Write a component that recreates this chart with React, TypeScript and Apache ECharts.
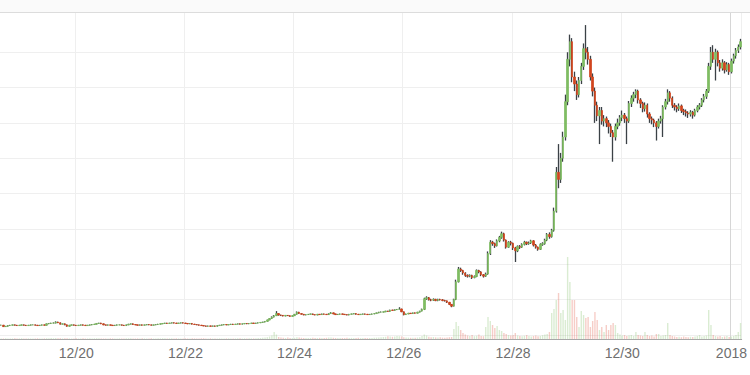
import React, { useEffect, useRef } from 'react';
import * as echarts from 'echarts';

// Hourly candles starting 2017-12-18 15:00
const START_DAY = 18;
const START_HOUR = 15;

// [open, close, low, high]
const CANDLES: number[][] = [
  // 0-9
  [127,127,126,128],[127,123,122,128],[123,124,122,125],[124,126,123,127],[126,127,125,128],[127,128,126,129],[128,127,126,129],[127,126,125,128],[126,127,125,128],[127,128,126,129],
  // 10-19
  [128,127,126,129],[127,126,125,128],[126,127,125,128],[127,128,126,129],[128,128,127,129],[128,127,126,129],[127,126,125,128],[126,127,125,128],[127,128,126,129],[128,127,126,129],
  // 20-29
  [127,131,126,132],[131,132,130,133],[132,133,131,134],[133,133,132,135],[133,136,132,138],[136,134,133,137],[134,130,129,135],[130,131,129,132],[131,128,127,132],[128,124,123,129],
  // 30-39
  [124,127,123,128],[127,128,126,129],[128,127,126,129],[127,126,125,128],[126,127,125,128],[127,128,126,129],[128,127,126,129],[127,126,125,128],[126,127,125,128],[127,128,126,129],
  // 40-49
  [128,129,127,130],[129,130,128,131],[130,132,129,133],[132,133,131,134],[133,131,130,134],[131,128,127,132],[128,127,126,129],[127,128,126,129],[128,127,126,129],[127,126,125,128],
  // 50-59
  [126,127,125,128],[127,128,126,129],[128,128,127,129],[128,127,126,129],[127,126,125,128],[126,128,125,129],[128,130,127,131],[130,131,129,132],[131,129,128,132],[129,128,127,130],
  // 60-69
  [128,127,126,129],[127,128,126,129],[128,127,126,129],[127,128,126,129],[128,129,127,130],[129,128,127,130],[128,127,126,129],[127,128,126,129],[128,129,127,130],[129,130,128,131],
  // 70-79
  [130,131,129,132],[131,132,130,133],[132,133,131,134],[133,132,131,134],[132,133,131,134],[133,134,132,135],[134,133,132,135],[133,132,131,134],[132,133,131,134],[133,134,132,135],
  // 80-89
  [134,133,132,135],[133,132,131,134],[132,131,130,133],[131,132,130,133],[132,130,129,133],[130,129,128,131],[129,128,127,130],[128,127,126,129],[127,126,125,128],[126,125,124,127],
  // 90-99
  [125,124,123,126],[124,125,123,126],[125,124,123,126],[124,125,123,126],[125,124,123,126],[124,126,123,127],[126,127,125,128],[127,128,126,129],[128,129,127,130],[129,128,127,130],
  // 100-109
  [128,129,127,130],[129,130,128,131],[130,129,128,131],[129,130,128,131],[130,131,129,132],[131,130,129,132],[130,131,129,132],[131,132,130,133],[132,131,130,133],[131,132,130,133],
  // 110-119
  [132,133,131,134],[133,132,131,134],[132,133,131,134],[133,134,132,135],[134,135,133,136],[135,136,134,137],[136,138,135,139],[138,142,137,143],[142,146,141,147],[146,150,145,152],
  // 120-129
  [150,154,149,156],[154,160,153,167],[160,156,154,161],[156,155,153,157],[155,153,152,156],[153,155,152,156],[155,154,153,156],[154,152,151,155],[152,154,151,155],[154,158,153,159],
  // 130-139
  [158,164,157,166],[164,160,159,165],[160,158,157,161],[158,156,155,159],[156,157,155,158],[157,158,156,159],[158,159,157,160],[159,157,156,160],[157,156,155,158],[156,158,155,159],
  // 140-149
  [158,157,156,159],[157,159,156,160],[159,158,157,160],[158,157,156,159],[157,160,156,161],[160,162,159,164],[162,159,158,163],[159,157,156,160],[157,158,156,159],[158,159,157,160],
  // 150-159
  [159,158,157,160],[158,157,156,159],[157,156,155,158],[156,158,155,159],[158,159,157,160],[159,160,158,161],[160,158,157,161],[158,157,156,159],[157,158,156,159],[158,159,157,160],
  // 160-169
  [159,158,157,160],[158,157,156,159],[157,158,156,159],[158,159,157,160],[159,160,158,161],[160,162,159,163],[162,164,161,165],[164,164,163,166],[164,165,163,166],[165,167,164,168],
  // 170-179
  [167,166,165,168],[166,170,165,171],[170,169,168,171],[169,171,168,172],[171,172,170,173],[172,173,171,178],[173,165,164,174],[165,157,155,166],[157,159,156,160],[159,161,158,162],
  // 180-189
  [161,160,159,162],[160,162,159,163],[162,161,160,163],[161,164,160,165],[164,167,163,168],[167,172,166,174],[172,202,170,205],[202,205,199,209],[205,199,197,207],[199,198,195,202],
  // 190-199
  [198,200,196,203],[200,197,195,202],[197,200,195,202],[200,199,197,202],[199,197,195,201],[197,196,194,199],[196,192,190,197],[192,186,184,193],[186,181,178,187],[181,200,180,202],
  // 200-209
  [200,250,198,256],[250,286,248,292],[286,282,278,290],[282,275,270,284],[275,268,264,277],[268,266,262,271],[266,268,263,271],[268,262,258,270],[262,265,260,268],[265,282,263,285],
  // 210-219
  [282,278,274,284],[278,270,266,280],[270,266,262,272],[266,272,264,276],[272,330,270,336],[330,362,326,368],[362,358,352,366],[358,352,346,361],[352,366,350,370],[366,376,362,380],
  // 220-229
  [376,386,372,392],[386,368,364,389],[368,348,344,370],[348,362,346,365],[362,359,353,366],[359,346,340,361],[346,338,306,349],[338,350,334,353],[350,348,343,354],[348,356,346,359],
  // 230-239
  [356,362,353,366],[362,358,354,364],[358,360,355,364],[360,366,357,369],[366,354,350,368],[354,348,344,357],[348,342,338,350],[342,356,340,359],[356,358,352,362],[358,368,355,372],
  // 240-249
  [368,384,365,388],[384,378,372,390],[378,396,375,400],[396,450,392,460],[450,560,446,575],[560,540,515,640],[540,600,530,615],[600,660,590,675],[660,760,650,780],[760,880,750,900],
  // 250-259
  [880,930,860,950],[930,830,815,940],[830,810,790,845],[810,780,765,820],[780,820,772,830],[820,860,810,870],[860,910,850,925],[910,900,880,977],[900,880,865,915],[880,830,820,890],
  // 260-269
  [830,790,775,840],[790,750,700,800],[750,720,705,760],[720,735,640,745],[735,705,695,745],[705,712,690,722],[712,700,688,718],[700,690,670,708],[690,672,660,698],[672,660,590,680],
  // 270-279
  [660,690,650,698],[690,700,682,712],[700,715,692,722],[715,722,705,735],[722,712,700,728],[712,705,640,718],[705,755,700,762],[755,770,745,778],[770,780,760,788],[780,790,770,795],
  // 280-289
  [790,765,755,794],[765,755,742,770],[755,740,730,760],[740,750,732,758],[750,725,715,755],[725,712,700,730],[712,708,696,718],[708,700,688,712],[700,690,650,705],[690,705,684,712],
  // 290-299
  [705,712,698,720],[712,745,660,750],[745,760,738,768],[760,785,752,795],[785,770,760,790],[770,750,742,775],[750,745,735,756],[745,740,730,750],[740,748,734,755],[748,735,728,752],
  // 300-309
  [735,732,722,740],[732,728,718,738],[728,725,714,733],[725,730,718,736],[730,722,712,734],[722,735,718,740],[735,745,730,750],[745,750,738,756],[750,765,745,770],[765,775,758,782],
  // 310-319
  [775,790,768,796],[790,860,785,870],[860,900,850,915],[900,880,870,920],[880,900,820,910],[900,870,860,905],[870,855,845,878],[855,870,848,880],[870,850,840,875],[850,865,845,872],
  // 320-325
  [865,845,836,870],[845,875,840,882],[875,890,868,896],[890,905,882,912],[905,915,898,922],[915,930,908,938],
];

const VOLUMES: number[] = [
  6,5,7,6,5,6,7,5,6,8,6,5,7,6,5,6,7,6,5,6,
  8,7,9,8,10,8,7,6,7,8,6,5,6,7,5,6,7,5,6,7,
  6,7,8,7,6,5,6,5,7,6,5,6,7,5,6,7,8,7,6,5,
  6,5,7,6,5,6,7,5,6,7,6,8,7,6,7,8,6,7,6,5,
  6,7,5,6,7,6,5,6,7,8,6,5,7,6,5,6,7,6,5,6,
  7,6,5,6,7,8,6,7,6,8,7,6,8,9,10,12,14,
  18,25,35,70,45,20,
  15,12,10,14,11,9,12,18,16,12,10,9,11,10,12,9,10,11,9,10,
  12,14,16,12,10,9,11,10,9,12,10,11,9,10,12,9,10,11,9,10,
  11,12,14,16,18,20,22,28,25,22,24,30,28,26,18,15,14,12,13,12,15,18,30,
  45,35,22,18,20,16,15,18,14,12,15,18,20,
  100,170,130,90,60,45,35,30,40,28,32,45,30,28,
  120,220,180,140,110,130,90,80,60,50,40,35,40,60,
  35,30,28,32,40,30,25,30,35,28,30,38,45,50,70,
  260,300,390,460,260,290,190,820,570,390,390,220,120,280,240,210,220,120,180,270,190,90,120,70,140,90,140,160,140,
  60,45,35,40,30,35,40,30,70,40,35,30,70,40,30,35,25,50,50,30,35,40,160,40,30,
  25,20,22,18,25,20,18,22,20,25,30,40,25,30,35,
  290,140,40,30,25,30,20,25,30,20,25,30,40,70,160,
];

const PRICE_MIN = 88;
const PRICE_MAX = 1014;
const VOLUME_MAX = 3270;

const UP = '#7fbd62';
const DOWN = '#d2451d';
const WICK = '#3b4146';
const UP_VOL = 'rgba(134,193,106,0.3)';
const DOWN_VOL = 'rgba(226,90,70,0.3)';

const CATEGORIES: string[] = CANDLES.map((_, i) => {
  const t = START_HOUR + i;
  const day = START_DAY + Math.floor(t / 24);
  const hour = t % 24;
  return day <= 31 ? `2017-12-${day} ${hour}` : `2018-01-${day - 31} ${hour}`;
});

const tickLabel = (cat: string): string => {
  const [date, hour] = String(cat).split(' ');
  if (hour !== '0') return '';
  const [y, m, d] = date.split('-').map(Number);
  if (m === 1 && d === 1) return String(y);
  if (d % 2 === 0) return `${m}/${d}`;
  return '';
};
const showTick = (_i: number, v: string) => tickLabel(v) !== '';

export default function App() {
  const ref = useRef<HTMLDivElement>(null);
  useEffect(() => {
    if (!ref.current) return;
    const chart = echarts.init(ref.current, undefined, { renderer: 'svg' });
    const bodies = CANDLES.map(([o, c]) => [o, c, Math.min(o, c), Math.max(o, c)]);
    const vols = VOLUMES.map((v, i) => ({
      value: v,
      itemStyle: { color: CANDLES[i][1] >= CANDLES[i][0] ? UP_VOL : DOWN_VOL },
    }));
    const T = 'rgba(0,0,0,0)';
    const G = '#efefef';
    chart.setOption({
      animation: false,
      grid: { left: 0, right: 0, top: 12, bottom: 36 },
      graphic: [
        { type: 'rect', shape: { x: 0, y: 0, width: 750, height: 12 }, style: { fill: '#fafafa' }, z: 100 },
        { type: 'line', shape: { x1: 0, y1: 12.5, x2: 750, y2: 12.5 }, style: { stroke: '#dcdcdc', lineWidth: 1 }, z: 100 },
      ],
      xAxis: {
        type: 'category',
        data: CATEGORIES,
        boundaryGap: true,
        axisLine: { lineStyle: { color: '#a8a8a8', width: 1 } },
        axisTick: { interval: showTick, length: 5, lineStyle: { color: '#a8a8a8' } },
        axisLabel: {
          interval: showTick,
          formatter: (v: string) => tickLabel(v),
          color: '#6f6f6f',
          fontSize: 14,
          margin: 7,
          fontFamily: 'Arial, "Liberation Sans", sans-serif',
        },
        splitLine: {
          show: true,
          interval: showTick,
          lineStyle: { color: [G, G, G, G, G, G, '#d6d6d6', G], width: 1 },
        },
      },
      yAxis: [
        {
          type: 'value',
          min: PRICE_MIN,
          max: PRICE_MAX,
          splitNumber: 9,
          axisLabel: { show: false },
          axisLine: { show: false },
          axisTick: { show: false },
          splitLine: { show: true, lineStyle: { color: [T, G, G, G, G, G, G, G, G, G, T, T] } },
        },
        { type: 'value', min: 0, max: VOLUME_MAX, show: false, splitLine: { show: false } },
      ],
      series: [
        { type: 'bar', yAxisIndex: 1, data: vols, barWidth: 1.4, z: 1 },
        {
          type: 'candlestick',
          data: CANDLES,
          barWidth: 0.3,
          z: 3,
          itemStyle: { color: WICK, color0: WICK, borderColor: WICK, borderColor0: WICK, borderWidth: 1.3 },
        },
        {
          type: 'candlestick',
          data: bodies,
          barWidth: 1.9,
          z: 4,
          itemStyle: { color: UP, color0: DOWN, borderColor: UP, borderColor0: DOWN, borderWidth: 0.7 },
        },
      ],
    });
    return () => chart.dispose();
  }, []);
  return (
    <div
      ref={ref}
      style={{ position: 'absolute', left: 0, top: 0, width: 750, height: 375 }}
    />
  );
}
